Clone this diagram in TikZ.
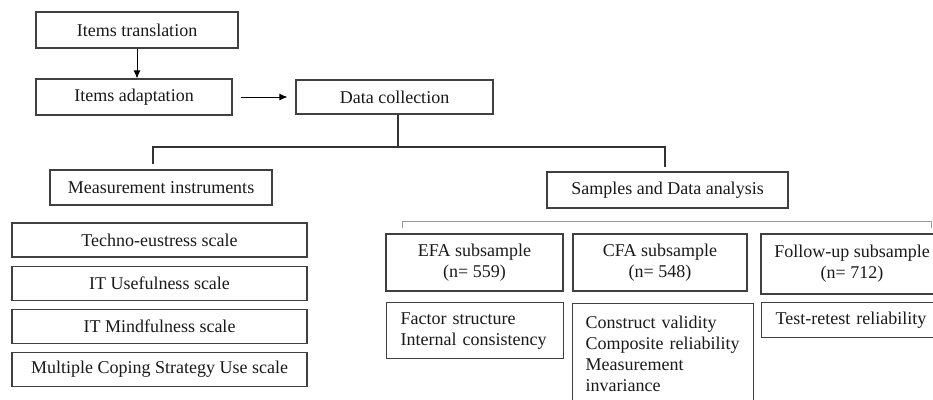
\documentclass[tikz,border=0pt]{standalone}
\usepackage{fontspec}
\setmainfont{Liberation Serif}
\usepackage{tikz}
\usetikzlibrary{shapes,arrows,arrows.meta,positioning}
\tikzstyle{arrow} = [->,>={Latex[length=8pt,width=7pt]},line width=0.8pt]

\begin{document}
\begin{tikzpicture}[x=1pt, y=-1pt,
          every node/.style={font=\fontsize{18}{21}\selectfont, text=black!90},
          box/.style={draw=black!75, line width=1.2pt, rectangle, inner sep=0pt, align=center},
          listbox/.style={draw=black!75, line width=1.2pt, rectangle, anchor=north west, align=left},
          link/.style={draw=black!80, line width=1.1pt},
          bracket/.style={draw=black!40, line width=1pt}]
          \useasboundingbox (0,0) rectangle (933,399);
          % procedure
          \node[box, minimum width=202pt, minimum height=36pt] (trans) at (137,30) {Items translation};
          \node[box, minimum width=196pt, minimum height=36pt] (adapt) at (134,97) {Items adaptation};
          \node[box, minimum width=197pt, minimum height=34pt] (collect) at (394.5,97) {Data collection};
          \draw[arrow] (trans.south) -- (trans.south |- adapt.north);
          \draw[arrow, shorten <=8pt, shorten >=8pt] (adapt.east) -- (collect.west);
          % two branches
          \node[box, minimum width=222pt, minimum height=35pt] (instr) at (161,187.5) {Measurement instruments};
          \node[box, minimum width=241pt, minimum height=36pt] (samples) at (667.5,190) {Samples and Data analysis};
          \coordinate (hub) at (398,147);
          \draw[link] (collect.south -| hub) -- (hub);
          \draw[link, shorten <=5pt, shorten >=4pt] ([xshift=-8pt]instr.north) |- (hub) -| ([xshift=-2.5pt]samples.north);
          % scales
          \node[box, minimum width=295pt, minimum height=34pt] (scale1) at (159.5,240) {Techno-eustress scale};
          \node[box, minimum width=295pt, minimum height=34pt, below=8pt of scale1] (scale2) {IT Usefulness scale};
          \node[box, minimum width=295pt, minimum height=34pt, below=8pt of scale2] (scale3) {IT Mindfulness scale};
          \node[box, minimum width=295pt, minimum height=34pt, below=8pt of scale3] (scale4) {Multiple Coping Strategy Use scale};
          % subsamples
          \coordinate (bl) at (402,228);
          \coordinate (br) at (931,228);
          \draw[bracket] (bl) -- ++(0,-7) -| (br);
          \node[box, minimum width=177pt, minimum height=57pt] (efa) at (474.5,262.5) {EFA subsample\\(n= 559)};
          \node[box, minimum width=174pt, minimum height=57pt] (cfa) at (660,262.5) {CFA subsample\\(n= 548)};
          \node[box, minimum width=182pt, minimum height=60pt] (follow) at (852,264) {Follow-up subsample\\(n= 712)};
          % analyses
          \node[listbox, text width=149pt, inner xsep=14pt, inner ysep=0pt, minimum height=56pt] (efares) at (386,302) {Factor structure\\Internal consistency};
          \node[listbox, text width=155pt, inner xsep=13pt, inner ysep=12pt] (cfares) at (572,303) {Construct validity\\Composite reliability\\Measurement\\invariance};
          \node[listbox, text width=170pt, inner xsep=14pt, inner ysep=0pt, minimum height=35pt] (followres) at (761,302) {Test-retest reliability};
\end{tikzpicture}
\end{document}
